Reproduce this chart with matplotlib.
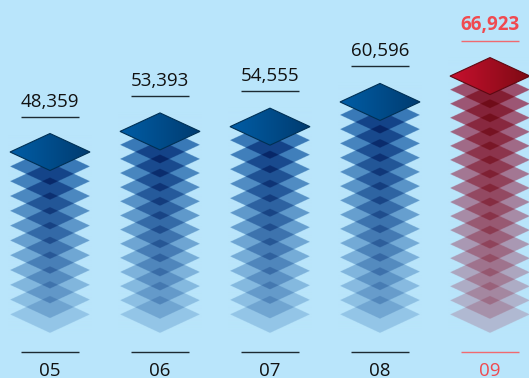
import numpy as np
import matplotlib
matplotlib.use("Agg")
import matplotlib.pyplot as plt
from matplotlib.colors import LinearSegmentedColormap, to_rgb
from matplotlib.patches import Polygon

years = ["05", "06", "07", "08", "09"]
values = [48359, 53393, 54555, 60596, 66923]
layers = [11, 13, 13, 15, 17]

BG = "#b9e5fb"
W, H = 529, 378
UNITS_PX = 0.00409  # pixels per unit of value
BASE = 8506  # value where the lowest layer sits
BASE_PX = 315

plt.rcParams['font.family'] = ['Open Sans', 'DejaVu Sans']
fig = plt.figure(figsize=(W / 100, H / 100), dpi=100, facecolor=BG)
ax = fig.add_axes([0, 0, 1, 1], facecolor=BG)
ax.set_xlim(0, W)
y0 = BASE - (H - BASE_PX) / UNITS_PX
ax.set_ylim(y0, y0 + H / UNITS_PX)
ax.axis("off")

hw = 40
hh = 18.5 / UNITS_PX
blue = LinearSegmentedColormap.from_list("b", ["#005da6", "#003c70"])
red = LinearSegmentedColormap.from_list("r", ["#c8102e", "#7d0a14"])
# layers darken like a multiply blend, so the overlaps get darker in steps
tint_blue = np.array([0.31, 0.53, 0.73])
tint_red = np.array([0.84, 0.35, 0.44])


def diamond(x, y, **kw):
    return Polygon([(x - hw, y), (x, y + hh), (x + hw, y), (x, y - hh)], closed=True, **kw)


def stack_image(x, val, n, tint):
    xs = np.linspace(x - hw - 2, x + hw + 2, 84 * 4)
    vs = np.linspace(BASE - hh - 2 / UNITS_PX, val + hh, int((val - BASE + 2 * hh) * UNITS_PX + 2) * 4)
    gx, gv = np.meshgrid(xs, vs)
    img = np.ones(gx.shape + (3,)) * np.array(to_rgb(BG))
    for j, y in enumerate(np.linspace(BASE, val, n + 1)[:-1]):
        a = 0.29 + 0.71 * j / max(n - 1, 1)
        inside = np.abs(gx - x) / hw + np.abs(gv - y) / hh <= 1
        img[inside] *= 1 - a * (1 - tint)
    return img, [xs[0], xs[-1], vs[0], vs[-1]]


for i, (yr, val, n) in enumerate(zip(years, values, layers)):
    x = 50 + i * 110
    last = i == 4
    txt = "#f04a50" if last else "#111111"
    line = "#f06a70" if last else "#1c2a32"
    img, ext = stack_image(x, val, n, tint_red if last else tint_blue)
    ax.imshow(img, extent=ext, origin="lower", aspect="auto", zorder=1)
    # top plate with a left to right gradient
    edge = "#5e0812" if last else "#003055"
    top = diamond(x, val, facecolor="none", edgecolor=edge, linewidth=0.8, zorder=6)
    ax.add_patch(top)
    im = ax.imshow(np.linspace(0, 1, 64).reshape(1, -1), cmap=red if last else blue,
                   extent=[x - hw, x + hw, val - hh, val + hh], aspect="auto", zorder=5)
    im.set_clip_path(diamond(x, val, transform=ax.transData))
    # value and rule above the stack
    rule_y = val + hh + 17 / UNITS_PX
    ax.plot([x - 29, x + 29], [rule_y, rule_y], color=line, lw=1.0, solid_capstyle="butt")
    ax.text(x, rule_y + 6 / UNITS_PX, f"{val:,}", ha="center", va="bottom", fontsize=13.5,
            color=txt, fontweight="bold" if last else "normal")
    # year label
    base_y = BASE - 36.5 / UNITS_PX
    ax.plot([x - 29, x + 29], [base_y, base_y], color=line, lw=1.0, solid_capstyle="butt")
    ax.text(x - 0.5, base_y - 10 / UNITS_PX, yr, ha="center", va="top", fontsize=13.5, color=txt)

ax.set_xlim(0, W)
ax.set_ylim(y0, y0 + H / UNITS_PX)
fig.savefig("out.png", dpi=100, facecolor=BG)
